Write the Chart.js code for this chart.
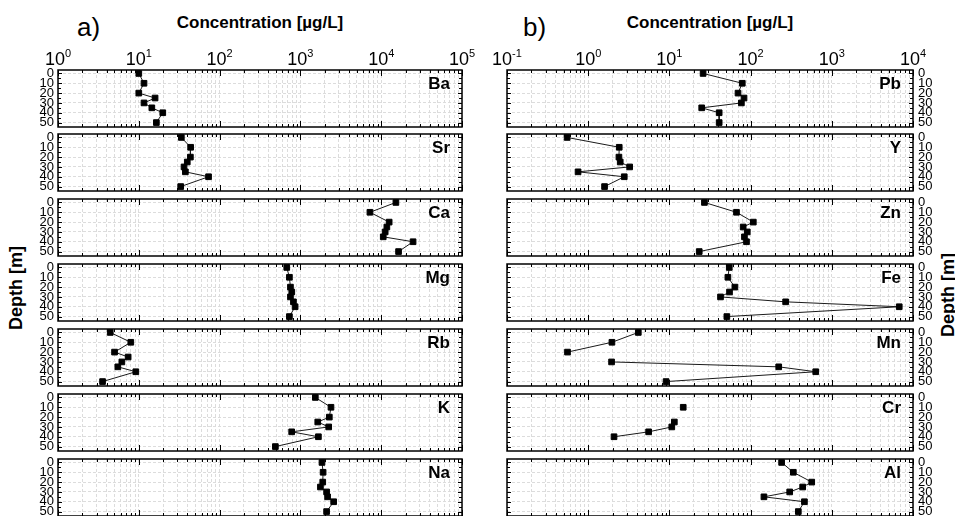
<!DOCTYPE html>
<html>
<head>
<meta charset="utf-8">
<script src="https://cdn.jsdelivr.net/npm/chart.js@4.4.1/dist/chart.umd.min.js"></script>
<style>
    body {
        margin: 0;
        background: #fff;
        width: 955px;
        height: 516px;
        overflow: hidden;
        position: relative;
        font-family: "Liberation Sans", Arial, sans-serif;
        color: #000;
    }
    canvas.panel {
        position: absolute;
    }
    .txt {
        position: absolute;
        white-space: nowrap;
    }
    .head {
        font-size: 17px;
        line-height: 17px;
        font-weight: bold;
        text-align: center;
        top: 14px;
    }
    .letter {
        font-size: 26px;
        line-height: 26px;
        top: 14px;
    }
    .depth {
        font-size: 18px;
        line-height: 18px;
        font-weight: bold;
        transform: translate(-50%, -50%) rotate(-90deg);
    }
</style>
</head>
<body>
<div class="txt letter" style="left:77px">a)</div>
<div class="txt letter" style="left:523px">b)</div>
<div class="txt head" style="left:58px;width:404px">Concentration [µg/L]</div>
<div class="txt head" style="left:507px;width:406px">Concentration [µg/L]</div>
<div class="txt depth" style="left:16px;top:288px">Depth [m]</div>
<div class="txt depth" style="left:948px;top:295px">Depth [m]</div>

<script>
// depth of each sample, metres
const depths = [0, 10, 20, 25, 30, 35, 40, 50];
const depthTicks = [0, 5, 10, 15, 20, 25, 30, 35, 40, 45, 50];

// a) left column, concentrations in ug/L (null = no value)
const leftNames = ["Ba", "Sr", "Ca", "Mg", "Rb", "K", "Na"];
const ba = [10, 11.6, 10, 15.9, 11.6, 14.5, 19.8, 16.5];
const sr = [33.6, 43.8, 43.5, 39.8, 36.3, 37.7, 73, 33];
const ca = [15200, 7250, 12550, 11750, 11200, 10600, 24800, 16400];
const mg = [678, 731, 753, 782, 753, 820, 860, 731];
const rb = [4.43, 7.96, 5.01, 7.38, 6.17, 5.5, 9.18, 3.56];
const k = [1530, 2390, 2280, 1640, 2240, 780, 1670, 490];
const na = [1850, 1910, 1890, 1770, 2110, 2170, 2580, 2110];
const leftSeries = [ba, sr, ca, mg, rb, k, na];
const leftDecades = [0, 5]; // 10^0 .. 10^5

// b) right column
const rightNames = ["Pb", "Y", "Zn", "Fe", "Mn", "Cr", "Al"];
const pb = [26, 79, 70, 83, 77, 25, 41, 41];
const yv = [0.55, 2.41, 2.39, 2.48, 3.24, 0.75, 2.78, 1.59];
const zn = [27, 67, 108, 81, 91, 84, 89, 23.3];
const fe = [54.6, 52.5, 64, 55, 42.6, 270, 6770, 51];
const mn = [4.14, 1.96, 0.556, null, 1.94, 222, 634, 9.1];
const cr = [null, 14.8, null, 11.5, 10.7, 5.55, 2.08, null];
const al = [241, 336, 566, 438, 303, 146, 460, 387];
const rightSeries = [pb, yv, zn, fe, mn, cr, al];
const rightDecades = [-1, 4]; // 10^-1 .. 10^4

// layout
const panelTops = [70, 134, 199, 264, 329, 394, 459];
const PANEL_H = 57;
const FONT = "'Liberation Sans', Arial, sans-serif";
const GRID = "#dcdcdc";

Chart.defaults.font.family = FONT;

function logTicks(lo, hi) {
    const out = [];
    for (let e = lo; e < hi; e++) {
        for (let m = 1; m < 10; m++) {
            out.push(m * Math.pow(10, e));
        }
    }
    out.push(Math.pow(10, hi));
    return out;
}

function isDecade(v) {
    const l = Math.log10(v);
    return Math.abs(l - Math.round(l)) < 1e-9;
}

const panelDecor = {
    id: "panelDecor",
    beforeDatasetsDraw(chart) {
        const { ctx, chartArea: a, scales } = chart;
        const x = scales.x;
        const y = scales.y;
        ctx.save();
        ctx.strokeStyle = "#000";
        ctx.lineWidth = 1;
        ctx.beginPath();
        x.ticks.forEach((t) => {
            const px = Math.round(x.getPixelForValue(t.value)) + 0.5;
            const len = isDecade(t.value) ? 6 : 3;
            ctx.moveTo(px, a.top);
            ctx.lineTo(px, a.top + len);
            ctx.moveTo(px, a.bottom);
            ctx.lineTo(px, a.bottom - len);
        });
        y.ticks.forEach((t) => {
            const py = Math.round(y.getPixelForValue(t.value)) + 0.5;
            const len = t.value % 10 === 0 ? 4 : 3;
            ctx.moveTo(a.left, py);
            ctx.lineTo(a.left + len, py);
            ctx.moveTo(a.right, py);
            ctx.lineTo(a.right - len, py);
        });
        ctx.stroke();
        ctx.lineWidth = 1.5;
        ctx.strokeRect(a.left, a.top, a.right - a.left, a.bottom - a.top);
        ctx.restore();
    },
    afterDraw(chart, args, opts) {
        const { ctx, chartArea: a, scales } = chart;
        ctx.save();
        ctx.fillStyle = "#000";
        ctx.font = "bold 17px " + FONT;
        ctx.textAlign = "right";
        ctx.textBaseline = "alphabetic";
        ctx.fillText(opts.name, a.right - 12, a.top + 18.5);

        if (opts.topLabels) {
            const x = scales.x;
            ctx.textAlign = "left";
            for (let e = opts.lo; e <= opts.hi; e++) {
                const px = x.getPixelForValue(Math.pow(10, e));
                const exp = String(e);
                ctx.font = "18px " + FONT;
                const wb = ctx.measureText("10").width;
                ctx.font = "11px " + FONT;
                const we = ctx.measureText(exp).width;
                const start = px - (wb + we) / 2;
                ctx.font = "18px " + FONT;
                ctx.fillText("10", start, a.top - 5);
                ctx.font = "11px " + FONT;
                ctx.fillText(exp, start + wb, a.top - 13);
            }
        }
        ctx.restore();
    },
};

function buildPanel(col, index, name, values) {
    const isLeft = col === "left";
    const decades = isLeft ? leftDecades : rightDecades;
    const lo = decades[0];
    const hi = decades[1];
    const first = index === 0;
    const padTop = first ? 34 : 10;
    const padBottom = 10;

    const canvasLeft = isLeft ? 0 : 480;
    const canvasWidth = isLeft ? 480 : 475;
    const plotLeft = isLeft ? 58 : 507;
    const plotRight = isLeft ? 462 : 913;

    const canvas = document.createElement("canvas");
    canvas.className = "panel";
    canvas.width = canvasWidth;
    canvas.height = PANEL_H + padTop + padBottom;
    canvas.style.left = canvasLeft + "px";
    canvas.style.top = panelTops[index] - padTop + "px";
    document.body.appendChild(canvas);

    const points = depths.map((d, i) => ({ x: values[i], y: d }));

    return new Chart(canvas.getContext("2d"), {
        type: "line",
        data: {
            datasets: [
                {
                    label: name,
                    data: points,
                    borderColor: "#1a1a1a",
                    borderWidth: 1,
                    backgroundColor: "#000",
                    pointBackgroundColor: "#000",
                    pointBorderColor: "#000",
                    pointBorderWidth: 1,
                    pointStyle: "rect",
                    pointRadius: 4,
                    spanGaps: false,
                    fill: false,
                    tension: 0,
                },
            ],
        },
        options: {
            responsive: false,
            animation: false,
            devicePixelRatio: 1,
            layout: {
                padding: {
                    left: isLeft ? 0 : plotLeft - canvasLeft,
                    right: isLeft ? canvasWidth - plotRight : 0,
                    top: padTop,
                    bottom: padBottom,
                },
            },
            plugins: {
                legend: { display: false },
                tooltip: { enabled: false },
                panelDecor: { name: name, topLabels: first, lo: lo, hi: hi },
            },
            scales: {
                x: {
                    type: "logarithmic",
                    position: "bottom",
                    min: Math.pow(10, lo),
                    max: Math.pow(10, hi),
                    afterBuildTicks: (s) => {
                        s.ticks = logTicks(lo, hi).map((v) => ({ value: v }));
                    },
                    afterFit: (s) => {
                        s.height = 0;
                        s.paddingLeft = 0;
                        s.paddingRight = 0;
                    },
                    ticks: { display: false },
                    grid: { color: GRID, lineWidth: 1, drawTicks: false },
                    border: { display: false, dash: [3, 2] },
                },
                y: {
                    type: "linear",
                    position: isLeft ? "left" : "right",
                    reverse: true,
                    min: -3.5,
                    max: 54.5,
                    afterBuildTicks: (s) => {
                        s.ticks = depthTicks.map((v) => ({ value: v }));
                    },
                    afterFit: (s) => {
                        s.width = isLeft ? plotLeft : canvasLeft + canvasWidth - plotRight;
                        s.paddingTop = 0;
                        s.paddingBottom = 0;
                    },
                    ticks: {
                        autoSkip: false,
                        padding: isLeft ? 4 : 5,
                        color: "#000",
                        font: { size: 13, lineHeight: 1 },
                        callback: (v) => (v % 10 === 0 ? String(v) : ""),
                    },
                    grid: {
                        color: (c) =>
                            c.tick && c.tick.value % 10 === 0 ? GRID : "rgba(0,0,0,0)",
                        lineWidth: 1,
                        drawTicks: false,
                    },
                    border: { display: false, dash: [3, 2] },
                },
            },
        },
        plugins: [panelDecor],
    });
}

leftNames.forEach((n, i) => buildPanel("left", i, n, leftSeries[i]));
rightNames.forEach((n, i) => buildPanel("right", i, n, rightSeries[i]));
</script>
</body>
</html>
